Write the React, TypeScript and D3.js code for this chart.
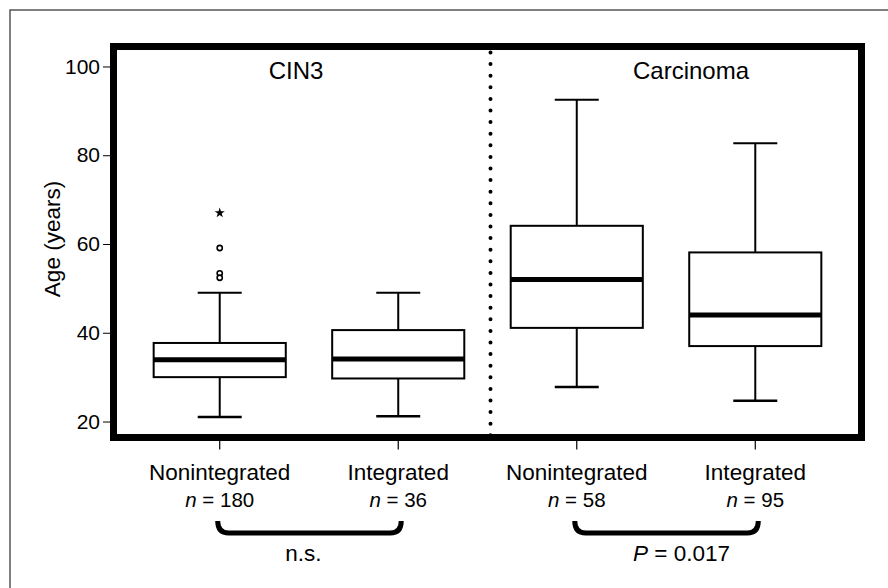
import { useRef, useEffect } from "react";
import * as d3 from "d3";

// groups (x categories)
const groupKeys = ["cin3-non", "cin3-int", "carc-non", "carc-int"];
const groupLabels = ["Nonintegrated", "Integrated", "Nonintegrated", "Integrated"];
const groupN = [180, 36, 58, 95];

// box statistics (age in years)
const whiskerLow = [21.0, 21.2, 27.8, 24.7];
const q1 = [30.0, 29.7, 41.1, 37.0];
const medians = [33.9, 34.1, 52.0, 44.0];
const q3 = [37.7, 40.6, 64.1, 58.1];
const whiskerHigh = [49.0, 49.0, 92.5, 82.7];

// outliers of CIN3 nonintegrated
const outlierGroup = ["cin3-non", "cin3-non", "cin3-non", "cin3-non"];
const outlierValues = [67.0, 59.1, 53.4, 52.4];
const outlierKind = ["extreme", "out", "out", "out"];

// panels and comparisons
const panelTitles = ["CIN3", "Carcinoma"];
const comparisonLabels = ["n.s.", "P = 0.017"];

const yTicks = [20, 40, 60, 80, 100];

const FONT = "Arial, 'Liberation Sans', Helvetica, sans-serif";

const App = () => {
  const svgRef = useRef<SVGSVGElement>(null);

  useEffect(() => {
    const svg = d3.select(svgRef.current);
    svg.selectAll("*").remove();

    const width = 888;
    const height = 588;
    const left = 113.5;
    const right = 861.5;
    const top = 46.5;
    const bottom = 437.5;

    svg.attr("width", width).attr("height", height);

    // escalas
    const x = d3.scalePoint<string>().domain(groupKeys).range([left, right]).padding(0.595);
    const y = d3.scaleLinear().domain([16.4, 104.5]).range([bottom, top]);
    const step = x.step();
    const boxW = step * 0.74;
    const capW = 44;

    // outer thin frame
    svg
      .append("rect")
      .attr("x", 10)
      .attr("y", 10)
      .attr("width", width)
      .attr("height", height)
      .attr("fill", "none")
      .attr("stroke", "#555")
      .attr("stroke-width", 1.5);

    // eje y
    const yAxis = svg.append("g").attr("transform", `translate(${left - 3.5},0)`);
    yAxis
      .call(d3.axisLeft(y).tickValues(yTicks).tickSize(7).tickPadding(3))
      .call((g) => g.select(".domain").remove());
    yAxis.selectAll("line").attr("stroke", "#000").attr("stroke-width", 1);
    yAxis
      .selectAll("text")
      .attr("font-family", FONT)
      .attr("font-size", 21)
      .attr("fill", "#000");

    svg
      .append("text")
      .attr("transform", `translate(52,${y(60) - 5}) rotate(-90)`)
      .attr("text-anchor", "middle")
      .attr("dy", "0.35em")
      .attr("font-family", FONT)
      .attr("font-size", 22.5)
      .text("Age (years)");

    // eje x ticks
    svg
      .append("g")
      .selectAll("line")
      .data(groupKeys)
      .enter()
      .append("line")
      .attr("x1", (d) => x(d)!)
      .attr("x2", (d) => x(d)!)
      .attr("y1", bottom + 3.5)
      .attr("y2", bottom + 12)
      .attr("stroke", "#000")
      .attr("stroke-width", 1.2);

    // x labels
    const xl = svg.append("g").attr("font-family", FONT).attr("text-anchor", "middle");
    xl.selectAll("text.name")
      .data(groupKeys)
      .enter()
      .append("text")
      .attr("class", "name")
      .attr("x", (d) => x(d)!)
      .attr("y", 480)
      .attr("font-size", 22.5)
      .text((d, i) => groupLabels[i]);
    const nText = xl
      .selectAll("text.n")
      .data(groupKeys)
      .enter()
      .append("text")
      .attr("class", "n")
      .attr("x", (d) => x(d)!)
      .attr("y", 507)
      .attr("font-size", 20.5);
    nText.append("tspan").attr("font-style", "italic").text("n");
    nText.append("tspan").text((d, i) => ` = ${groupN[i]}`);

    // boxes
    const boxes = svg
      .append("g")
      .selectAll("g")
      .data(groupKeys)
      .enter()
      .append("g")
      .attr("stroke", "#000")
      .attr("fill", "none");

    boxes
      .append("line")
      .attr("x1", (d) => x(d)!)
      .attr("x2", (d) => x(d)!)
      .attr("y1", (d, i) => y(whiskerHigh[i]))
      .attr("y2", (d, i) => y(q3[i]))
      .attr("stroke-width", 2);
    boxes
      .append("line")
      .attr("x1", (d) => x(d)!)
      .attr("x2", (d) => x(d)!)
      .attr("y1", (d, i) => y(q1[i]))
      .attr("y2", (d, i) => y(whiskerLow[i]))
      .attr("stroke-width", 2);
    boxes
      .append("line")
      .attr("x1", (d) => x(d)! - capW / 2)
      .attr("x2", (d) => x(d)! + capW / 2)
      .attr("y1", (d, i) => y(whiskerHigh[i]))
      .attr("y2", (d, i) => y(whiskerHigh[i]))
      .attr("stroke-width", 2);
    boxes
      .append("line")
      .attr("x1", (d) => x(d)! - capW / 2)
      .attr("x2", (d) => x(d)! + capW / 2)
      .attr("y1", (d, i) => y(whiskerLow[i]))
      .attr("y2", (d, i) => y(whiskerLow[i]))
      .attr("stroke-width", 2.5);
    boxes
      .append("rect")
      .attr("x", (d) => x(d)! - boxW / 2)
      .attr("width", boxW)
      .attr("y", (d, i) => y(q3[i]))
      .attr("height", (d, i) => y(q1[i]) - y(q3[i]))
      .attr("fill", "#fff")
      .attr("stroke-width", 2);
    boxes
      .append("line")
      .attr("x1", (d) => x(d)! - boxW / 2)
      .attr("x2", (d) => x(d)! + boxW / 2)
      .attr("y1", (d, i) => y(medians[i]))
      .attr("y2", (d, i) => y(medians[i]))
      .attr("stroke-width", 5);

    // outliers
    const outs = svg.append("g");
    outlierValues.forEach((v, i) => {
      const cx = x(outlierGroup[i])!;
      if (outlierKind[i] === "extreme") {
        outs
          .append("path")
          .attr("d", d3.symbol(d3.symbolStar, 32)()!)
          .attr("transform", `translate(${cx},${y(v)})`)
          .attr("fill", "#000");
      } else {
        outs
          .append("circle")
          .attr("cx", cx)
          .attr("cy", y(v))
          .attr("r", 2.6)
          .attr("fill", "#fff")
          .attr("stroke", "#000")
          .attr("stroke-width", 1.6);
      }
    });

    // dotted divider
    const midX = (x(groupKeys[1])! + x(groupKeys[2])!) / 2 + 3;
    svg
      .append("line")
      .attr("x1", midX)
      .attr("x2", midX)
      .attr("y1", top + 6)
      .attr("y2", bottom - 2)
      .attr("stroke", "#000")
      .attr("stroke-width", 4)
      .attr("stroke-linecap", "round")
      .attr("stroke-dasharray", "0 11.6");

    // thick frame
    svg
      .append("rect")
      .attr("x", left)
      .attr("y", top)
      .attr("width", right - left)
      .attr("height", bottom - top)
      .attr("fill", "none")
      .attr("stroke", "#000")
      .attr("stroke-width", 7);

    // panel titles
    const panelCenters = [(left + midX) / 2 - 6, (midX + right) / 2 + 15];
    svg
      .append("g")
      .selectAll("text")
      .data(panelTitles)
      .enter()
      .append("text")
      .attr("x", (d, i) => panelCenters[i])
      .attr("y", 79)
      .attr("text-anchor", "middle")
      .attr("font-family", FONT)
      .attr("font-size", 24)
      .text((d) => d);

    // brackets
    const pairs = [
      [groupKeys[0], groupKeys[1]],
      [groupKeys[2], groupKeys[3]],
    ];
    const br = svg.append("g");
    pairs.forEach((p, i) => {
      const x1 = x(p[0])! - 2;
      const x2 = x(p[1])! + 3;
      const yt = 521;
      const yb = 533;
      const r = 11;
      br.append("path")
        .attr(
          "d",
          `M${x1},${yt} Q${x1},${yb} ${x1 + r},${yb} L${x2 - r},${yb} Q${x2},${yb} ${x2},${yt}`
        )
        .attr("fill", "none")
        .attr("stroke", "#000")
        .attr("stroke-width", 5);
      const t = br
        .append("text")
        .attr("x", (x1 + x2) / 2 + (i === 1 ? 15 : -6))
        .attr("y", 561)
        .attr("text-anchor", "middle")
        .attr("font-family", FONT)
        .attr("font-size", 22.5);
      if (comparisonLabels[i].startsWith("P")) {
        t.append("tspan").attr("font-style", "italic").text("P");
        t.append("tspan").text(comparisonLabels[i].slice(1));
      } else {
        t.text(comparisonLabels[i]);
      }
    });
  }, []);

  return (
    <div>
      <style>{`body{margin:0;overflow:hidden}`}</style>
      <svg ref={svgRef}></svg>
    </div>
  );
};

export default App;
